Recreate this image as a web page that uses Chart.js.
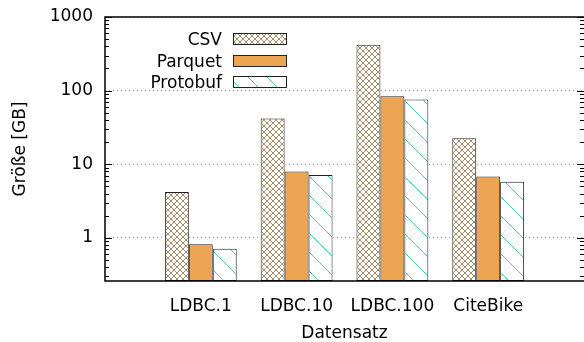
<!DOCTYPE html>
<html lang="de">
<head>
<meta charset="UTF-8">
<title>Größe der Datensätze</title>
<script src="https://cdn.jsdelivr.net/npm/chart.js"></script>
<style>
  html, body { margin: 0; padding: 0; background: #fff; overflow: hidden; }
  body { width: 584px; height: 342px; }
</style>
</head>
<body>
<canvas id="chart" width="584" height="342"></canvas>
<script>
// data (log scale, GB)
const categories = ['LDBC.1', 'LDBC.10', 'LDBC.100', 'CiteBike'];
const csvSize = [4.2, 42, 420, 22.5];
const parquetSize = [0.82, 8.0, 84, 6.8];
const protobufSize = [0.71, 7.15, 76, 5.8];
const yTicks = [1, 10, 100, 1000];
const yMin = 0.26, yMax = 1000;

const FONT = { family: "'DejaVu Sans', sans-serif", size: 17 };

function makePattern(size, draw) {
    const c = document.createElement('canvas');
    c.width = size; c.height = size;
    const g = c.getContext('2d');
    g.fillStyle = '#fff';
    g.fillRect(0, 0, size, size);
    draw(g, size);
    return g.createPattern(c, 'repeat');
}

// crosshatch for CSV
const hatchCross = makePattern(6, (g, s) => {
    g.strokeStyle = '#a88c66';
    g.lineWidth = 1;
    g.beginPath();
    g.moveTo(0, 0); g.lineTo(s, s);
    g.moveTo(s, 0); g.lineTo(0, s);
    g.stroke();
});
// diagonal lines for Protobuf
const hatchDiag = makePattern(19, (g, s) => {
    g.strokeStyle = '#4fcfa3';
    g.lineWidth = 1;
    g.beginPath();
    g.moveTo(-1, -1); g.lineTo(s + 1, s + 1);
    g.stroke();
});

// empty slot at each end so the x range runs one step past the outer groups
const pad = arr => [null, ...arr, null];

// frame, minor ticks and mirrored ticks like gnuplot
const framePlugin = {
    id: 'frame',
    afterDatasetsDraw(chart) {
        const { ctx, chartArea: a } = chart;
        const y = chart.scales.y;
        ctx.save();
        ctx.strokeStyle = '#000';
        ctx.lineWidth = 1;
        const ticks = [];
        for (let d = -1; d <= 3; d++) {
            for (let m = 1; m <= 9; m++) {
                const v = m * Math.pow(10, d);
                if (v >= yMin && v <= yMax) ticks.push([v, m === 1 ? 7 : 4]);
            }
        }
        ctx.beginPath();
        ticks.forEach(([v, len]) => {
            const py = Math.round(y.getPixelForValue(v)) + 0.5;
            ctx.moveTo(a.left, py); ctx.lineTo(a.left + len, py);
            ctx.moveTo(a.right, py); ctx.lineTo(a.right - len, py);
        });
        ctx.stroke();
        ctx.lineWidth = 1.5;
        ctx.beginPath();
        ctx.moveTo(a.right + 2, a.top); ctx.lineTo(a.left, a.top);
        ctx.lineTo(a.left, a.bottom); ctx.lineTo(a.right + 2, a.bottom);
        ctx.stroke();
        ctx.restore();
    }
};

// legend: label to the left of the sample box, inside the plot
const legendPlugin = {
    id: 'sideLegend',
    afterDraw(chart) {
        const { ctx } = chart;
        const rows = [39, 61, 82];
        ctx.save();
        ctx.font = `${FONT.size}px ${FONT.family}`;
        ctx.textAlign = 'right';
        ctx.textBaseline = 'middle';
        chart.data.datasets.forEach((ds, i) => {
            const cy = rows[i];
            ctx.fillStyle = '#000';
            ctx.fillText(ds.label, 222, cy + 2);
            ctx.fillStyle = ds.backgroundColor;
            ctx.fillRect(233, cy - 6, 54, 12);
            ctx.strokeStyle = '#222';
            ctx.lineWidth = 1;
            ctx.strokeRect(233.5, cy - 5.5, 53, 11);
        });
        ctx.restore();
    }
};

new Chart(document.getElementById('chart'), {
    type: 'bar',
    data: {
        labels: pad(categories).map(c => c || ''),
        datasets: [
            { label: 'CSV', data: pad(csvSize), backgroundColor: hatchCross },
            { label: 'Parquet', data: pad(parquetSize), backgroundColor: '#eea553' },
            { label: 'Protobuf', data: pad(protobufSize), backgroundColor: hatchDiag },
        ].map(ds => Object.assign(ds, { borderColor: '#222', borderWidth: 1, borderSkipped: false }))
    },
    options: {
        responsive: false,
        animation: false,
        devicePixelRatio: 1,
        layout: { autoPadding: false, padding: { left: 0, top: 17, right: -1, bottom: 0 } },
        datasets: { bar: { categoryPercentage: 0.75, barPercentage: 1 } },
        plugins: { legend: { display: false }, tooltip: { enabled: false } },
        scales: {
            x: {
                type: 'category',
                offset: false,
                grid: { display: false, drawTicks: false },
                border: { display: false },
                ticks: { color: '#000', font: FONT, padding: 15, autoSkip: false, maxRotation: 0 },
                title: { display: true, text: 'Datensatz', color: '#000', font: { ...FONT, lineHeight: 1 }, padding: { bottom: 0, top: 0 } },
                afterFit: s => { s.height = 61; s.paddingLeft = 0; s.paddingRight = 0; }
            },
            y: {
                type: 'logarithmic',
                min: yMin,
                max: yMax,
                afterBuildTicks: s => { s.ticks = yTicks.map(v => ({ value: v, major: true })); },
                grid: { color: '#a6a6a6', lineWidth: 1, drawTicks: false },
                border: { display: false, dash: [1, 3] },
                ticks: { color: '#000', font: FONT, padding: 12, autoSkip: false, callback: v => String(v) },
                title: { display: true, text: 'Größe [GB]', color: '#000', font: FONT, padding: { top: 10 } },
                afterFit: s => { s.width = 105; s.paddingTop = 0; s.paddingBottom = 0; }
            }
        }
    },
    plugins: [framePlugin, legendPlugin]
});
</script>
</body>
</html>
